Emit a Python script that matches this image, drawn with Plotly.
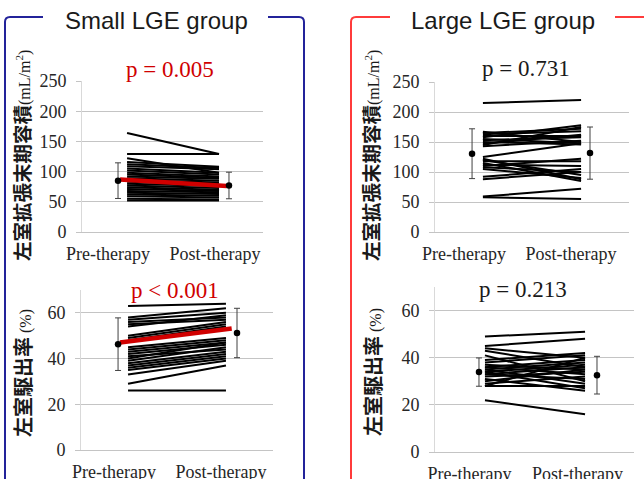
import plotly.graph_objects as go

W, H = 644, 479

# ---------------- data ----------------
categories = ["Pre-therapy", "Post-therapy"]

# Small LGE group - LV end-diastolic volume index (mL/m2)
small_edv_pre = [164, 129, 122, 116, 112, 109, 105, 102, 98, 95, 92, 89, 86, 83, 80, 77, 74, 71, 68, 65, 62, 59, 55, 52]
small_edv_post = [129, 129, 98, 108, 106, 104, 98, 95, 92, 90, 88, 85, 82, 79, 76, 73, 70, 68, 66, 63, 60, 57, 54, 52]
small_edv_mean = [85, 77]
small_edv_sd = [29.5, 22]
small_edv_trend = [87, 76]

# Small LGE group - LVEF (%)
small_ef_pre = [63, 58, 57, 56, 55, 54, 50, 49, 48, 45, 44, 43, 42, 41, 40, 39, 38, 37, 36, 35, 33, 29, 26]
small_ef_post = [64, 62, 60, 58, 57, 59, 56, 55, 54, 49, 48, 47, 46, 44, 47, 45, 43, 42, 41, 40, 39, 37, 26]
small_ef_mean = [46.3, 51.2]
small_ef_sd = [11.5, 10.8]
small_ef_trend = [47, 53.2]

# Large LGE group - LV end-diastolic volume index (mL/m2)
large_edv_pre = [215, 167, 165, 163, 160, 158, 155, 153, 150, 147, 145, 143, 125, 122, 120, 118, 115, 112, 110, 108, 105, 92, 88, 59, 58]
large_edv_post = [220, 150, 172, 168, 160, 178, 148, 158, 146, 162, 175, 152, 148, 88, 95, 118, 85, 110, 122, 100, 90, 105, 100, 72, 55]
large_edv_mean = [130.5, 131.5]
large_edv_sd = [41.5, 43.5]

# Large LGE group - LVEF (%)
large_ef_pre = [49, 45, 44, 43, 41, 39, 38, 37, 36, 36, 35, 35, 34, 34, 33, 33, 32, 31, 30, 29, 28, 28, 22]
large_ef_post = [51, 48, 40, 36, 30, 42, 41, 35, 39, 33, 38, 29, 37, 27, 36, 31, 34, 26, 35, 32, 28, 40, 16]
large_ef_mean = [33.9, 32.6]
large_ef_sd = [6, 8]

p_texts = ["p = 0.005", "p < 0.001", "p = 0.731", "p = 0.213"]
group_titles = ["Small LGE group", "Large LGE group"]
edv_title = "<b>左室拡張末期容積</b><span style='font-family:Liberation Serif;font-size:16px'>(mL/m<sup>2</sup>)</span>"
ef_title = "<b>左室駆出率</b><span style='font-family:Liberation Serif;font-size:16px'> (%)</span>"

# ---------------- layout helpers ----------------
def fx(x):
    return x / W

def fy(y):
    return 1 - y / H

SERIF = "Liberation Serif, Times New Roman, serif"
SANS = "Liberation Sans, Arial, sans-serif"
CJK = "Noto Sans CJK JP, sans-serif"

panels = [
    dict(x=(82, 263), y=(81, 232), yr=[0, 250], yt=[0, 50, 100, 150, 200, 250], lab=[0.144, 0.735],
         pre=small_edv_pre, post=small_edv_post, mean=small_edv_mean, sd=small_edv_sd, trend=small_edv_trend,
         mx=[0.199, 0.812], lx=[0.249, 0.757], tx=[0.21, 0.80]),
    dict(x=(81, 273), y=(290, 450), yr=[0, 70], yt=[0, 20, 40, 60], lab=[0.172, 0.729],
         pre=small_ef_pre, post=small_ef_post, mean=small_ef_mean, sd=small_ef_sd, trend=small_ef_trend,
         mx=[0.193, 0.8125], lx=[0.245, 0.755], tx=[0.203, 0.785]),
    dict(x=(435, 629), y=(82, 232), yr=[0, 250], yt=[0, 50, 100, 150, 200, 250], lab=[0.149, 0.701],
         pre=large_edv_pre, post=large_edv_post, mean=large_edv_mean, sd=large_edv_sd, trend=None,
         mx=[0.191, 0.799], lx=[0.247, 0.753], tx=None),
    dict(x=(435, 634), y=(287, 452), yr=[0, 70], yt=[0, 20, 40, 60], lab=[0.173, 0.716],
         pre=large_ef_pre, post=large_ef_post, mean=large_ef_mean, sd=large_ef_sd, trend=None,
         mx=[0.221, 0.814], lx=[0.251, 0.754], tx=None),
]

fig = go.Figure()
GRID = "#c4c4c4"

for i, p in enumerate(panels):
    n = "" if i == 0 else str(i + 1)
    xa, ya = "x" + n, "y" + n
    xs, ys = [], []
    for a, b in zip(p["pre"], p["post"]):
        xs += [p["lx"][0], p["lx"][1], None]
        ys += [a, b, None]
    fig.add_trace(go.Scatter(x=xs, y=ys, mode="lines", line=dict(color="black", width=2),
                             xaxis=xa, yaxis=ya, showlegend=False, hoverinfo="skip"))
    if p["trend"] is not None:
        fig.add_trace(go.Scatter(x=p["tx"], y=p["trend"], mode="lines", line=dict(color="#d00000", width=4.5),
                                 xaxis=xa, yaxis=ya, showlegend=False))
    fig.add_trace(go.Scatter(x=p["mx"], y=p["mean"], mode="markers",
                             marker=dict(color="black", size=6.5),
                             error_y=dict(type="data", array=p["sd"], color="#404040", thickness=1, width=3),
                             xaxis=xa, yaxis=ya, showlegend=False))
    fig.layout["xaxis" + n] = dict(domain=[fx(p["x"][0]), fx(p["x"][1])], range=[0, 1], anchor=ya,
                                   showgrid=False, zeroline=False, showline=True, linecolor=GRID, linewidth=1,
                                   tickvals=p["lab"], ticktext=categories, ticks="", ticklabelstandoff=5,
                                   automargin=False,
                                   tickfont=dict(family=SERIF, size=18, color="#262626"), fixedrange=True)
    fig.layout["yaxis" + n] = dict(domain=[fy(p["y"][1]), fy(p["y"][0])], range=p["yr"], anchor=xa,
                                   showgrid=True, gridcolor=GRID, gridwidth=1, zeroline=False,
                                   showline=True, linecolor="#d9d9d9", linewidth=1,
                                   tickvals=p["yt"], ticks="outside", ticklen=5, tickcolor=GRID,
                                   ticklabelstandoff=6, automargin=False,
                                   tickfont=dict(family=SERIF, size=18, color="#262626"), fixedrange=True)

annotations = []
p_pos = [(170, 70, "#d00000"), (175, 290, "#d00000"), (526, 69, "#1a1a1a"), (523, 289, "#1a1a1a")]
for t, (x, y, c) in zip(p_texts, p_pos):
    annotations.append(dict(text=t, x=fx(x), y=fy(y), xref="paper", yref="paper", showarrow=False,
                            xanchor="center", yanchor="middle", font=dict(family=SERIF, size=23, color=c)))
for t, x in zip(group_titles, [156, 503]):
    annotations.append(dict(text=t, x=fx(x), y=fy(21), xref="paper", yref="paper", showarrow=False,
                            xanchor="center", yanchor="middle", font=dict(family=SANS, size=24, color="#1a1a1a")))
ytitles = [(edv_title, 21, 156, 19.5), (ef_title, 22, 373, 20), (edv_title, 370, 156, 19.5), (ef_title, 372, 372, 20)]
for t, x, y, s in ytitles:
    annotations.append(dict(text=t, x=fx(x), y=fy(y), xref="paper", yref="paper", showarrow=False,
                            textangle=-90, xanchor="center", yanchor="middle",
                            font=dict(family=CJK, size=s, color="#1a1a1a")))

r = 5
blue = "#23239a"
red = "#ff3b3b"
def P(x, y):
    return f"{fx(x):.5f},{fy(y):.5f}"

shapes = [
    dict(type="path", xref="paper", yref="paper",
         path=f"M {P(5, 479)} L {P(5, 17 + r)} Q {P(5, 17)} {P(5 + r, 17)} L {P(43, 17)}",
         line=dict(color=blue, width=2)),
    dict(type="path", xref="paper", yref="paper",
         path=f"M {P(268, 17)} L {P(304 - r, 17)} Q {P(304, 17)} {P(304, 17 + r)} L {P(304, 479)}",
         line=dict(color=blue, width=2)),
    dict(type="path", xref="paper", yref="paper",
         path=f"M {P(351, 479)} L {P(351, 17 + r)} Q {P(351, 17)} {P(351 + r, 17)} L {P(390, 17)}",
         line=dict(color=red, width=2)),
    dict(type="path", xref="paper", yref="paper",
         path=f"M {P(615, 17)} L {P(644, 17)}",
         line=dict(color=red, width=2)),
]

fig.update_layout(width=W, height=H, margin=dict(l=0, r=0, t=0, b=0, pad=0, autoexpand=False),
                  paper_bgcolor="white", plot_bgcolor="white",
                  annotations=annotations, shapes=shapes, showlegend=False)

fig.write_html("out.html", config={"displayModeBar": False},
               post_script="document.body.style.margin='0';document.body.style.overflow='hidden';")
